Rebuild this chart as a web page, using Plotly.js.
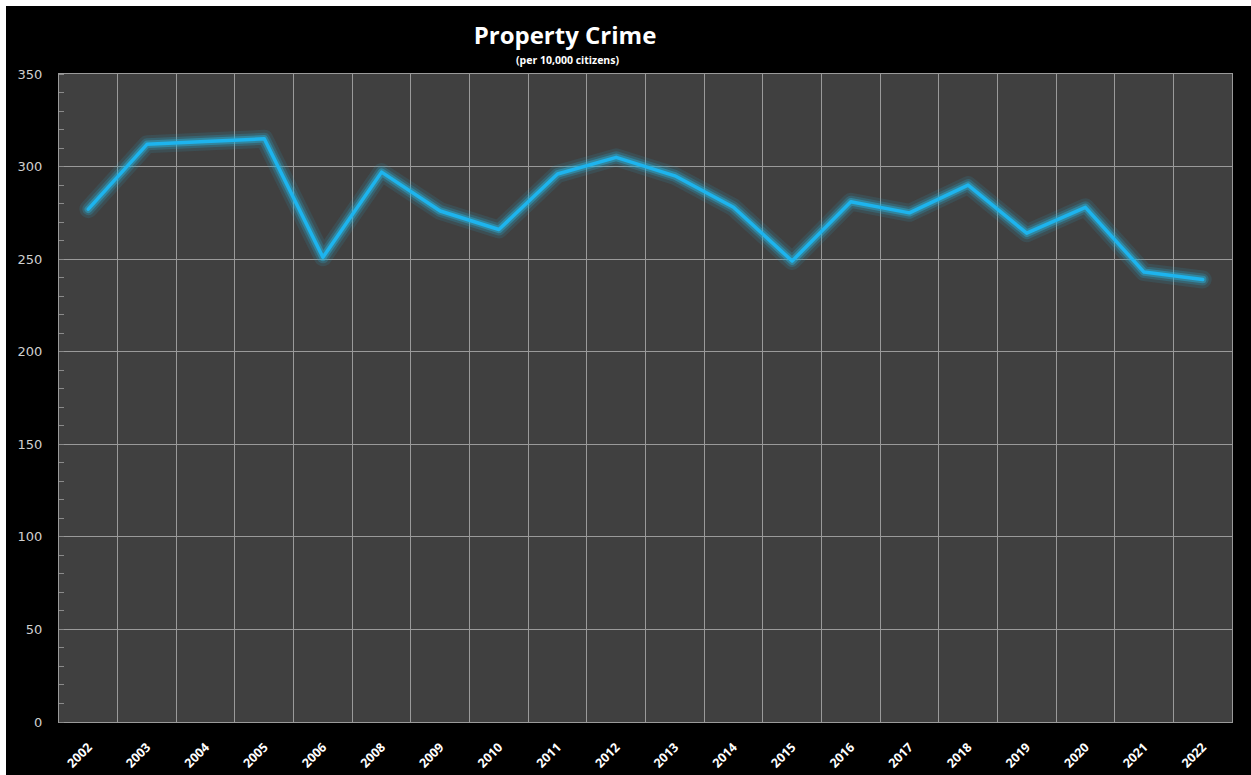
<!DOCTYPE html>
<html>
<head>
<meta charset="utf-8">
<script src="https://cdn.plot.ly/plotly-3.0.1.min.js"></script>
<style>
  html, body { margin: 0; padding: 0; background: #ffffff; }
  #chart { position: absolute; left: 6px; top: 6px; width: 1245px; height: 769px; background: #000; }
</style>
</head>
<body>
<div id="chart"></div>
<script>
const years = ["2002","2003","2004","2005","2006","2008","2009","2010","2011","2012","2013","2014","2015","2016","2017","2018","2019","2020","2021","2022"];
const propertyCrime = [277, 312, 313.5, 315, 251, 297, 276, 266, 296, 305, 295, 278, 249, 281, 275, 290, 264, 278, 243, 239];
const yTicks = [0, 50, 100, 150, 200, 250, 300, 350];

// category boundaries for the vertical gridlines (between categories)
const boundaries = [];
for (let i = 0; i <= years.length; i++) boundaries.push(i - 0.5);

const glowLayers = [
  {w: 18, c: 'rgba(40,160,200,0.14)'},
  {w: 12, c: 'rgba(40,170,210,0.24)'},
  {w: 7.5, c: 'rgba(40,180,225,0.42)'},
  {w: 3.5, c: '#1db4ee'}
];
const traces = [{x: [-0.5], y: [0], xaxis: 'x2', yaxis: 'y', type: 'scatter', mode: 'markers',
  marker: {opacity: 0}, hoverinfo: 'skip', showlegend: false}];
glowLayers.forEach(g => traces.push({
  x: years, y: propertyCrime, type: 'scatter', mode: 'lines',
  xaxis: 'x', yaxis: 'y',
  line: {color: g.c, width: g.w, shape: 'linear'},
  hoverinfo: 'skip', showlegend: false
}));

const layout = {
  width: 1245, height: 769,
  paper_bgcolor: '#000000', plot_bgcolor: '#404040',
  margin: {l: 53, r: 19, t: 68, b: 53},
  showlegend: false,
  title: {
    text: '<b>Property Crime</b>',
    font: {family: 'Open Sans', size: 24, color: '#ffffff'},
    xref: 'container', yref: 'container',
    x: 0.449, xanchor: 'center', y: 0.961, yanchor: 'middle'
  },
  annotations: [{
    text: '<b>(per 10,000 citizens)</b>',
    xref: 'paper', yref: 'paper', x: 0.4336, y: 1.0216,
    xanchor: 'center', yanchor: 'middle', showarrow: false,
    font: {family: 'Open Sans', size: 10.5, color: '#ffffff'}
  }],
  xaxis: {
    type: 'category', categoryorder: 'array', categoryarray: years,
    range: [-0.5, years.length - 0.5],
    ticks: 'outside', ticklen: 12, tickcolor: 'rgba(0,0,0,0)', showgrid: false,
    showline: true, linecolor: '#9a9a9a', linewidth: 1, mirror: true,
    tickangle: -45,
    tickfont: {family: 'Open Sans', size: 12.5, color: '#ffffff', weight: 'bold'},
    fixedrange: true
  },
  xaxis2: {
    overlaying: 'x', anchor: 'y',
    range: [-0.5, years.length - 0.5],
    tickvals: boundaries, showticklabels: false, ticks: '',
    showgrid: true, gridcolor: '#9a9a9a', gridwidth: 1,
    zeroline: false, showline: false, fixedrange: true
  },
  yaxis: {
    range: [0, 350], tickvals: yTicks, ticktext: yTicks.map(String),
    showgrid: true, gridcolor: '#9a9a9a', gridwidth: 1,
    zeroline: false,
    showline: true, linecolor: '#9a9a9a', linewidth: 1, mirror: true,
    ticks: 'outside', ticklen: 13, tickcolor: 'rgba(0,0,0,0)',
    minor: {ticks: 'inside', dtick: 10, ticklen: 5, tickcolor: '#8a8a8a', showgrid: false},
    tickfont: {family: 'DejaVu Sans', size: 13, color: '#d0d0d0'},
    fixedrange: true
  }
};

Plotly.newPlot('chart', traces, layout, {displayModeBar: false, staticPlot: true}).then(() => {
  document.querySelectorAll('#chart .js-line').forEach(p => {
    p.style.strokeLinecap = 'round';
    p.style.strokeLinejoin = 'round';
  });
});
</script>
</body>
</html>
